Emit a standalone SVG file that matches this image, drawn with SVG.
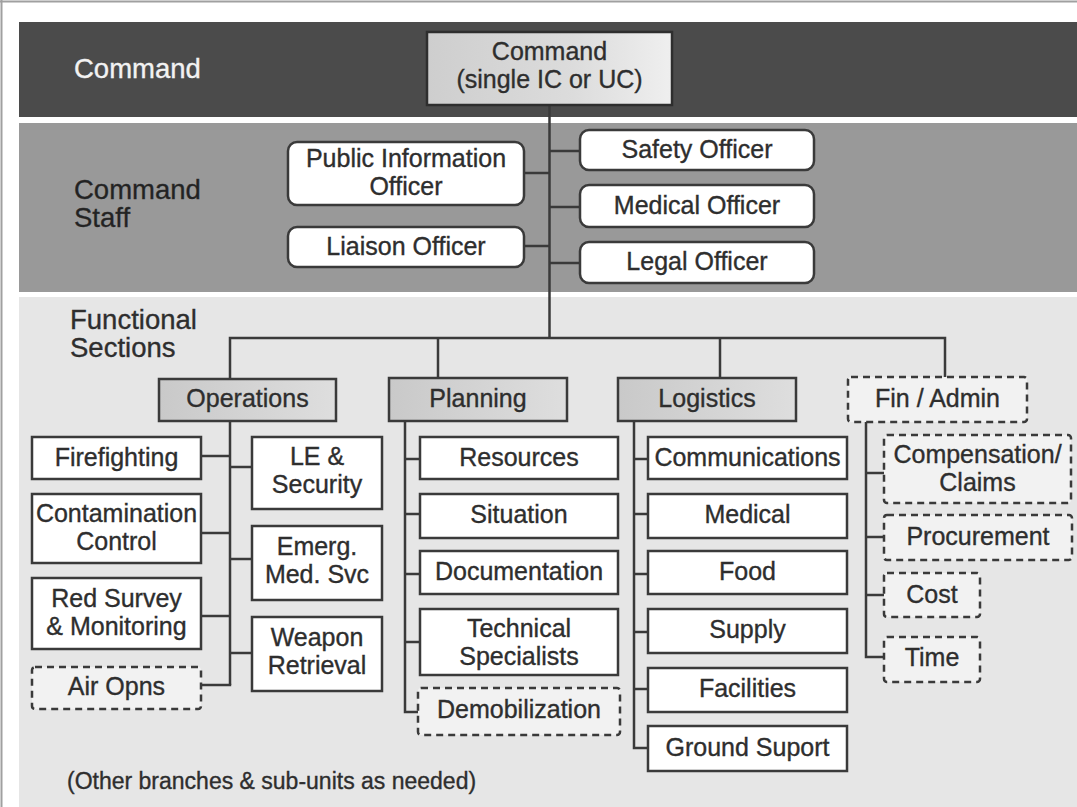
<svg xmlns="http://www.w3.org/2000/svg" width="1077" height="807" viewBox="0 0 1077 807">
<defs>
<linearGradient id="gCmd" x1="0" y1="0" x2="1" y2="0">
<stop offset="0" stop-color="#cecece"/><stop offset="0.6" stop-color="#dcdcdc"/><stop offset="1" stop-color="#efefef"/>
</linearGradient>
<linearGradient id="gSec" x1="0" y1="0" x2="1" y2="0">
<stop offset="0" stop-color="#c9c9c9"/><stop offset="1" stop-color="#dedede"/>
</linearGradient>
<style>
text{font-family:"Liberation Sans",Arial,sans-serif;fill:#2e2e2e;stroke:#2e2e2e;stroke-width:0.35;}
.n{font-size:25px;text-anchor:middle;}
.lbl{font-size:27.5px;}
.box{fill:#fff;stroke:#3a3a3a;stroke-width:2.5;}
.rbox{fill:#fff;stroke:#3a3a3a;stroke-width:2.5;}
.dbox{fill:#f2f2f2;stroke:#3a3a3a;stroke-width:2.5;stroke-dasharray:7 5;}
.sec{fill:url(#gSec);stroke:#3a3a3a;stroke-width:2.5;}
.conn line,.conn polyline{stroke:#3a3a3a;stroke-width:2.5;fill:none;}
</style>
</defs>
<rect x="0" y="0" width="1077" height="807" fill="#fff"/>
<line x1="0" y1="1.5" x2="1077" y2="1.5" stroke="#a0a0a0" stroke-width="2"/>
<line x1="1.5" y1="0" x2="1.5" y2="807" stroke="#a0a0a0" stroke-width="2"/>
<rect x="19" y="22" width="1058" height="95" fill="#4b4b4b"/>
<rect x="19" y="123" width="1058" height="169" fill="#999999"/>
<rect x="19" y="297" width="1058" height="510" fill="#e6e6e6"/>
<text x="74" y="78" class="lbl" style="fill:#f2f2f2;stroke:#f2f2f2">Command</text>
<text x="74" y="199" class="lbl" style="fill:#222">Command</text>
<text x="74" y="227" class="lbl" style="fill:#222">Staff</text>
<text x="70" y="329" class="lbl">Functional</text>
<text x="70" y="357" class="lbl">Sections</text>
<text x="67" y="789" style="font-size:23px">(Other branches &amp; sub-units as needed)</text>

<g id="connectors" class="conn">
<line x1="549.5" y1="105" x2="549.5" y2="338"/>
<line x1="524" y1="173" x2="549.5" y2="173"/>
<line x1="524" y1="246" x2="549.5" y2="246"/>
<line x1="549.5" y1="151" x2="580" y2="151"/>
<line x1="549.5" y1="207" x2="580" y2="207"/>
<line x1="549.5" y1="263" x2="580" y2="263"/>
<polyline points="230,379 230,338 945,338 945,377"/>
<line x1="438" y1="338" x2="438" y2="378"/>
<line x1="720" y1="338" x2="720" y2="378"/>
<line x1="230" y1="421" x2="230" y2="685"/>
<line x1="201" y1="456" x2="230" y2="456"/>
<line x1="230" y1="467" x2="252" y2="467"/>
<line x1="201" y1="533" x2="230" y2="533"/>
<line x1="230" y1="559" x2="252" y2="559"/>
<line x1="201" y1="616" x2="230" y2="616"/>
<line x1="230" y1="653" x2="252" y2="653"/>
<line x1="201" y1="685" x2="231.2" y2="685"/>
<polyline points="405,421 405,712 418,712"/>
<line x1="405" y1="459" x2="420" y2="459"/>
<line x1="405" y1="514" x2="420" y2="514"/>
<line x1="405" y1="574" x2="420" y2="574"/>
<line x1="405" y1="642" x2="420" y2="642"/>
<polyline points="634,421 634,748 648,748"/>
<line x1="634" y1="459" x2="648" y2="459"/>
<line x1="634" y1="514" x2="648" y2="514"/>
<line x1="634" y1="574" x2="648" y2="574"/>
<line x1="634" y1="632" x2="648" y2="632"/>
<line x1="634" y1="689" x2="648" y2="689"/>
<polyline points="866,422 866,657 884,657"/>
<line x1="866" y1="473" x2="884" y2="473"/>
<line x1="866" y1="537" x2="884" y2="537"/>
<line x1="866" y1="595" x2="884" y2="595"/>
</g>

<g id="command"><rect x="427" y="32" width="245" height="73" fill="url(#gCmd)" stroke="#2e2e2e" stroke-width="2.5"/>
<text x="549.5" y="60" class="n">Command</text><text x="549.5" y="88" class="n">(single IC or UC)</text></g>

<g id="pio"><rect x="288" y="142" width="236" height="63" rx="9" class="rbox"/>
<text x="406" y="167" class="n">Public Information</text><text x="406" y="195" class="n">Officer</text></g>
<g id="liaison"><rect x="288" y="227" width="236" height="40" rx="9" class="rbox"/>
<text x="406" y="255" class="n">Liaison Officer</text></g>
<g id="safety"><rect x="580" y="130" width="234" height="40" rx="9" class="rbox"/>
<text x="697" y="158" class="n">Safety Officer</text></g>
<g id="medical-officer"><rect x="580" y="185" width="234" height="42" rx="9" class="rbox"/>
<text x="697" y="214" class="n">Medical Officer</text></g>
<g id="legal"><rect x="580" y="242" width="234" height="41" rx="9" class="rbox"/>
<text x="697" y="270" class="n">Legal Officer</text></g>

<g id="operations"><rect x="159" y="379" width="177" height="42" class="sec"/>
<text x="247.5" y="407" class="n">Operations</text></g>
<g id="planning"><rect x="389" y="378" width="178" height="43" class="sec"/>
<text x="478" y="407" class="n">Planning</text></g>
<g id="logistics"><rect x="618" y="378" width="178" height="43" class="sec"/>
<text x="707" y="407" class="n">Logistics</text></g>
<g id="finadmin"><rect x="848" y="377" width="179" height="45" rx="3" class="dbox"/>
<text x="937.5" y="407" class="n">Fin / Admin</text></g>

<g id="firefighting"><rect x="32" y="437" width="169" height="42" class="box"/>
<text x="116.5" y="466" class="n">Firefighting</text></g>
<g id="contamination"><rect x="32" y="494" width="169" height="69" class="box"/>
<text x="116.5" y="522" class="n">Contamination</text><text x="116.5" y="550" class="n">Control</text></g>
<g id="redsurvey"><rect x="32" y="578" width="169" height="71" class="box"/>
<text x="116.5" y="607" class="n">Red Survey</text><text x="116.5" y="635" class="n">&amp; Monitoring</text></g>
<g id="airopns"><rect x="32" y="667" width="169" height="42" rx="3" class="dbox"/>
<text x="116.5" y="695" class="n">Air Opns</text></g>
<g id="le-security"><rect x="252" y="437" width="130" height="72" class="box"/>
<text x="317" y="465" class="n">LE &amp;</text><text x="317" y="493" class="n">Security</text></g>
<g id="emerg"><rect x="252" y="526" width="130" height="74" class="box"/>
<text x="317" y="555" class="n">Emerg.</text><text x="317" y="583" class="n">Med. Svc</text></g>
<g id="weapon"><rect x="252" y="617" width="130" height="74" class="box"/>
<text x="317" y="646" class="n">Weapon</text><text x="317" y="674" class="n">Retrieval</text></g>

<g id="resources"><rect x="420" y="437" width="198" height="42" class="box"/>
<text x="519" y="466" class="n">Resources</text></g>
<g id="situation"><rect x="420" y="494" width="198" height="44" class="box"/>
<text x="519" y="523" class="n">Situation</text></g>
<g id="documentation"><rect x="420" y="551" width="198" height="43" class="box"/>
<text x="519" y="580" class="n">Documentation</text></g>
<g id="technical"><rect x="420" y="609" width="198" height="66" class="box"/>
<text x="519" y="637" class="n">Technical</text><text x="519" y="665" class="n">Specialists</text></g>
<g id="demob"><rect x="418" y="688" width="202" height="47" rx="3" class="dbox"/>
<text x="519" y="718" class="n">Demobilization</text></g>

<g id="communications"><rect x="648" y="437" width="199" height="42" class="box"/>
<text x="747.5" y="466" class="n">Communications</text></g>
<g id="medical"><rect x="648" y="494" width="199" height="44" class="box"/>
<text x="747.5" y="523" class="n">Medical</text></g>
<g id="food"><rect x="648" y="551" width="199" height="43" class="box"/>
<text x="747.5" y="580" class="n">Food</text></g>
<g id="supply"><rect x="648" y="609" width="199" height="44" class="box"/>
<text x="747.5" y="638" class="n">Supply</text></g>
<g id="facilities"><rect x="648" y="668" width="199" height="44" class="box"/>
<text x="747.5" y="697" class="n">Facilities</text></g>
<g id="groundsupport"><rect x="648" y="726" width="199" height="45" class="box"/>
<text x="747.5" y="756" class="n">Ground Suport</text></g>

<g id="compensation"><rect x="884" y="435" width="187" height="68" rx="3" class="dbox"/>
<text x="977.5" y="463" class="n">Compensation/</text><text x="977.5" y="491" class="n">Claims</text></g>
<g id="procurement"><rect x="884" y="515" width="188" height="45" rx="3" class="dbox"/>
<text x="978" y="545" class="n">Procurement</text></g>
<g id="cost"><rect x="884" y="573" width="96" height="44" rx="3" class="dbox"/>
<text x="932" y="603" class="n">Cost</text></g>
<g id="time"><rect x="884" y="637" width="96" height="45" rx="3" class="dbox"/>
<text x="932" y="666" class="n">Time</text></g>
</svg>
